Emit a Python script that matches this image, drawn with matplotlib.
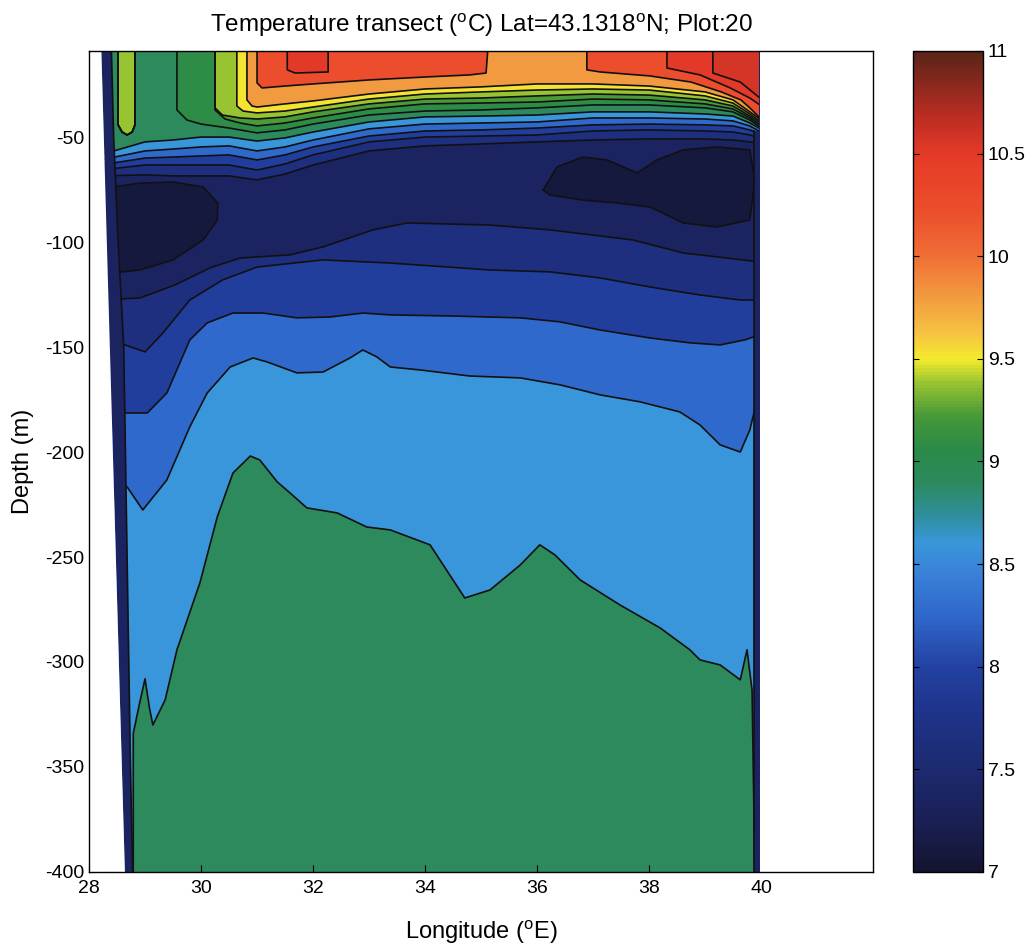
import numpy as np
import matplotlib
matplotlib.use("Agg")
import matplotlib.pyplot as plt
from matplotlib.colors import LinearSegmentedColormap, Normalize
from matplotlib.cm import ScalarMappable

plt.rcParams['font.family'] = ['Liberation Sans', 'DejaVu Sans']
plt.rcParams['mathtext.fontset'] = 'custom'
plt.rcParams['mathtext.rm'] = 'Liberation Sans'
plt.rcParams['axes.unicode_minus'] = False

# depth range of the section (m) and longitude range of the axes
TOP, BOT = -9, -400
LON_MIN, LON_MAX = 28, 42

# colour scale (7..11 degC)
cbar_vals = [7.0, 7.25, 7.5, 7.75, 8.0, 8.25, 8.45, 8.6, 8.75, 8.9, 9.05, 9.22, 9.38,
             9.5, 9.62, 9.8, 10.0, 10.22, 10.5, 10.7, 11.0]
cbar_cols = ['#141430', '#1a2056', '#1c2a70', '#1e3288', '#2342a2', '#3068cc', '#3a80d8',
             '#3a96da', '#2e8e96', '#2c8a5c', '#2a8a48', '#469838', '#96c232', '#f4ec2c',
             '#f6c442', '#f29c40', '#f06e36', '#ec4e2c', '#e63a28', '#b82c22', '#5a2418']
cbar_ticks = [7, 7.5, 8, 8.5, 9, 9.5, 10, 10.5, 11]
cbar_ticklabels = ['7', '7.5', '8', '8.5', '9', '9.5', '10', '10.5', '11']

# contour levels (degC)
levels = [7.2, 7.5, 7.8, 8.1, 8.4, 8.8, 9.0, 9.15, 9.3, 9.45, 9.6, 10.0, 10.45, 10.55]

# isotherms in the upper layer (warmer water above the line)
up_lon = [28.2, 29.0, 29.5, 30.0, 30.5, 31.0, 31.5, 32.0, 33.0, 34.0, 35.0, 36.0, 37.0,
          38.0, 39.0, 39.5, 39.8, 39.93, 39.98]
t75_up = [-68.5, -68.0, -68.5, -68.5, -68.5, -70.4, -67.6, -63.3, -56.6, -54.2, -53.3, -52.3,
          -51.4, -50.9, -50.9, -51.4, -52.3, -52.8, -53.3]
t78_up = [-65.7, -63.3, -63.3, -63.3, -63.3, -65.7, -62.8, -58.5, -52.3, -50.0, -49.5, -49.0,
          -47.1, -46.6, -47.1, -47.6, -49.0, -50.0, -50.9]
t81_up = [-63.3, -60.0, -59.5, -59.0, -58.5, -60.9, -58.5, -54.7, -49.5, -47.1, -46.6, -45.7,
          -44.2, -43.8, -44.2, -44.7, -46.6, -48.0, -49.0]
t84_up = [-60.9, -56.6, -55.7, -54.7, -54.2, -56.6, -54.7, -51.4, -46.1, -43.8, -43.3, -42.8,
          -40.9, -40.9, -41.4, -42.3, -44.7, -46.6, -47.6]
t88_up = [-58.5, -52.3, -51.4, -50.0, -50.0, -51.9, -50.4, -47.6, -42.8, -40.4, -40.0, -39.5,
          -38.0, -38.0, -39.0, -40.0, -43.3, -45.2, -46.1]

t90_lon = [29.57, 29.57, 29.75, 30.0, 30.5, 31.0, 31.5, 32.0, 33.0, 34.0, 35.0, 36.0, 37.0,
           38.0, 39.0, 39.5, 39.8, 39.93, 39.98]
t90_up = [-9, -37.1, -41.9, -43.8, -45.7, -48.0, -46.6, -43.8, -39.5, -37.6, -37.1, -36.1,
          -34.7, -34.7, -36.1, -38.0, -41.9, -44.2, -45.2]
t915_lon = [30.25, 30.25, 30.43, 30.7, 31.0, 31.5, 32.0, 33.0, 34.0, 35.0, 36.0, 37.0, 38.0,
            39.0, 39.5, 39.8, 39.93, 39.98]
t915_up = [-9, -37.1, -41.4, -43.3, -44.7, -43.3, -40.9, -36.6, -34.2, -33.8, -33.3, -31.9,
           -32.3, -34.2, -36.6, -40.9, -43.3, -44.2]
t93_lon = [30.25, 30.25, 30.38, 30.7, 31.0, 31.5, 32.0, 33.0, 34.0, 35.0, 36.0, 37.0, 38.0,
           39.0, 39.5, 39.8, 39.93, 39.98]
t93_up = [-9, -36.1, -39.5, -40.9, -41.4, -40.4, -38.0, -34.2, -31.9, -31.4, -30.4, -29.5,
          -30.0, -32.3, -35.2, -40.0, -42.3, -43.3]
t945_lon = [30.64, 30.64, 30.75, 31.0, 31.5, 32.0, 33.0, 34.0, 35.0, 36.0, 37.0, 38.0, 39.0,
            39.5, 39.8, 39.93, 39.98]
t945_up = [-9, -35.2, -37.6, -38.5, -37.6, -35.7, -31.9, -29.5, -28.5, -27.6, -27.1, -27.6,
           -30.4, -33.8, -39.0, -41.4, -42.3]
t96_lon = [30.82, 30.82, 30.91, 31.0, 31.5, 32.0, 33.0, 34.0, 35.0, 36.0, 37.0, 38.0, 39.0,
           39.5, 39.8, 39.93, 39.98]
t96_up = [-9, -32.3, -35.2, -35.7, -34.2, -32.8, -29.5, -27.1, -26.1, -24.7, -24.7, -25.7,
          -28.5, -32.3, -38.0, -40.4, -41.4]
t100w_lon = [31.0, 31.0, 31.09, 31.5, 32.0, 33.0, 34.0, 34.8, 35.09, 35.12]
t100w_up = [-9, -24.2, -26.6, -25.7, -24.7, -22.8, -21.4, -20.4, -19.5, -9]
t100e_lon = [36.89, 36.89, 37.13, 38.02, 38.75, 39.29, 39.64, 39.8, 39.93, 39.98]
t100e_up = [-9, -18.0, -19.0, -20.9, -23.8, -28.5, -32.3, -36.1, -39.5, -40.9]
t1045w_lon = [31.54, 31.54, 31.68, 32.27, 32.27]
t1045w_up = [-9, -18.0, -19.5, -19.0, -9]
t1045e_lon = [38.32, 38.32, 38.91, 39.45, 39.8, 39.98]
t1045e_up = [-9, -17.1, -20.4, -26.6, -31.4, -34.7]
t1055_lon = [39.14, 39.14, 39.63, 39.98]
t1055_up = [-9, -19.5, -23.8, -31.4]
# warm column near the western shelf
col_lon = [28.52, 28.52, 28.59, 28.68, 28.77, 28.82, 28.82]
col_up = [-9, -44.2, -47.6, -49.0, -47.6, -44.2, -9]

# cold intermediate layer cores (below 7.2 degC)
core_w_lon = [28.42, 28.91, 29.5, 30.04, 30.3, 30.29, 30.04, 29.5, 28.91, 28.42]
core_w_dep = [-73.8, -71.9, -71.4, -73.8, -81.4, -89.5, -99.0, -108.5, -113.3, -114.7]
core_e_lon = [36.11, 36.36, 36.82, 37.25, 37.79, 38.14, 38.61, 39.21, 39.8, 39.89, 39.8,
              39.21, 38.61, 38.02, 37.43, 36.82, 36.23]
core_e_dep = [-75.2, -64.2, -59.5, -60.9, -67.1, -60.9, -56.1, -54.7, -56.1, -70.4, -89.5,
              -92.8, -90.9, -83.3, -81.4, -80.0, -77.6]

# isotherms in the deep layer (warmer water below the line)
t75_dn_lon = [28.2, 28.91, 29.54, 30.16, 30.7, 31.59, 32.18, 33.07, 33.68, 35.16, 36.23,
              37.71, 38.61, 39.68, 39.98]
t75_dn = [-127.6, -126.6, -120.4, -112.3, -107.6, -106.1, -102.3, -94.2, -90.9, -91.9, -94.2,
          -99.0, -105.2, -108.5, -109.5]
t78_dn_lon = [28.2, 28.64, 29.0, 29.32, 29.8, 30.39, 31.0, 32.18, 33.38, 35.16, 36.23, 37.13,
              38.02, 38.91, 39.63, 39.98]
t78_dn = [-149.0, -149.0, -152.3, -143.3, -127.6, -118.0, -111.9, -108.5, -110.0, -113.3,
          -114.2, -117.1, -121.4, -125.2, -127.6, -127.6]
t81_dn_lon = [28.2, 28.68, 29.04, 29.39, 29.8, 30.11, 30.57, 31.11, 31.71, 32.3, 32.89, 33.38,
              34.45, 35.7, 36.41, 37.13, 38.02, 38.73, 39.27, 39.71, 39.98]
t81_dn = [-181.4, -181.4, -181.4, -171.9, -146.6, -138.5, -133.8, -133.8, -136.1, -135.7,
          -133.8, -134.7, -135.2, -136.1, -138.0, -141.9, -145.7, -148.0, -149.0, -146.6, -144.2]
t84_dn_lon = [28.2, 28.68, 28.96, 29.39, 29.8, 30.11, 30.52, 30.93, 31.18, 31.71, 32.18, 32.66,
              32.89, 33.14, 33.38, 33.91, 34.8, 35.7, 36.41, 37.13, 37.84, 38.55, 38.91, 39.27,
              39.63, 39.8, 39.93, 39.98]
t84_dn = [-216.6, -216.6, -227.6, -213.3, -188.0, -171.9, -159.5, -155.2, -157.1, -162.3,
          -161.9, -155.2, -151.4, -154.7, -159.5, -160.9, -163.8, -164.7, -168.0, -172.8,
          -176.1, -180.9, -187.1, -196.6, -200.0, -189.5, -175.2, -170.4]
t88_dn_lon = [28.79, 28.79, 28.9, 29.0, 29.08, 29.14, 29.36, 29.57, 29.98, 30.29, 30.57,
              30.88, 31.05, 31.36, 31.59, 31.89, 32.43, 32.96, 33.38, 34.09, 34.71, 35.16,
              35.7, 36.05, 36.32, 36.77, 37.48, 38.2, 38.73, 38.91, 39.27, 39.63, 39.75,
              39.84, 39.89]
t88_dn = [-400, -334, -320, -308, -322, -330, -318, -294.2, -262.3, -230.9, -210.0, -201.9,
          -203.8, -214.2, -219.5, -226.6, -229.0, -235.7, -237.1, -244.2, -269.5, -265.7,
          -253.8, -244.2, -249.0, -260.9, -272.8, -283.8, -294.2, -299.0, -301.4, -308.5,
          -294.2, -313.3, -400]

# coastline / slope of the section
shore_w_lon = [28.22, 28.64]
shore_w_dep = [-9, -400]
shore_e_lon = 39.98
edge_w_lon = [28.4, 28.44, 28.52, 28.62, 28.68, 28.74, 28.78]
edge_w_dep = [-9, -50, -100, -150, -250, -350, -400]
edge_e_lon = 39.87
edge_e_top = -47

cmap = LinearSegmentedColormap.from_list(
    'ttr', list(zip((np.array(cbar_vals) - 7) / 4, cbar_cols)))
norm = Normalize(7, 11)
bounds = np.array([7.0] + levels + [levels[-1] + 0.05])
band = [cmap(norm(v)) for v in (bounds[:-1] + bounds[1:]) / 2]

fig = plt.figure(figsize=(10.34, 9.51), dpi=100)
ax = fig.add_axes([0.0861, 0.0831, 0.7582, 0.8633])
cax = fig.add_axes([0.883, 0.0831, 0.0677, 0.8633])

LW = 1.2
LC = '#111111'


def fill_above(lon, dep, c):
    ax.fill(list(lon) + [lon[-1], lon[0]], list(dep) + [TOP, TOP], color=c, lw=0, zorder=1)
    ax.plot(lon, dep, color=LC, lw=LW, zorder=2)


def fill_below(lon, dep, c):
    ax.fill(list(lon) + [lon[-1], lon[0]], list(dep) + [BOT, BOT], color=c, lw=0, zorder=1)
    ax.plot(lon, dep, color=LC, lw=LW, zorder=2)


# water, then the cold cores
ax.fill([shore_w_lon[0], shore_e_lon, shore_e_lon, shore_w_lon[0]], [TOP, TOP, BOT, BOT],
        color=band[1], lw=0, zorder=1)
for lo, de in [(core_w_lon, core_w_dep), (core_e_lon, core_e_dep)]:
    ax.fill(lo, de, color=band[0], lw=0, zorder=1)
    ax.plot(lo + lo[:1], de + de[:1], color=LC, lw=LW, zorder=2)

# warmer layers, coldest first
fill_above(up_lon, t75_up, band[2]); fill_below(t75_dn_lon, t75_dn, band[2])
fill_above(up_lon, t78_up, band[3]); fill_below(t78_dn_lon, t78_dn, band[3])
fill_above(up_lon, t81_up, band[4]); fill_below(t81_dn_lon, t81_dn, band[4])
fill_above(up_lon, t84_up, band[5]); fill_below(t84_dn_lon, t84_dn, band[5])
fill_above(up_lon, t88_up, band[6]); fill_below(t88_dn_lon, t88_dn, band[6])
fill_above(t90_lon, t90_up, band[7]); fill_above(col_lon, col_up, band[7])
fill_above(t915_lon, t915_up, band[8]); fill_above(col_lon, col_up, band[8])
fill_above(t93_lon, t93_up, band[9]); fill_above(col_lon, col_up, band[9])
fill_above(t945_lon, t945_up, band[10])
fill_above(t96_lon, t96_up, band[11])
fill_above(t100w_lon, t100w_up, band[12]); fill_above(t100e_lon, t100e_up, band[12])
fill_above(t1045w_lon, t1045w_up, band[13]); fill_above(t1045e_lon, t1045e_up, band[13])
fill_above(t1055_lon, t1055_up, band[14])

# cold rim along the coasts
ax.fill(shore_w_lon[::-1] + edge_w_lon, shore_w_dep[::-1] + edge_w_dep,
        color=band[1], lw=0, zorder=3)
ax.plot(edge_w_lon, edge_w_dep, color=LC, lw=LW, zorder=3)
ax.fill([edge_e_lon, shore_e_lon, shore_e_lon, edge_e_lon], [edge_e_top, edge_e_top, BOT, BOT],
        color=band[1], lw=0, zorder=3)
ax.plot([edge_e_lon, edge_e_lon], [edge_e_top, BOT], color=LC, lw=LW, zorder=3)
ax.plot([shore_e_lon, shore_e_lon], [TOP, BOT], color='#1b2668', lw=1.5, zorder=3)

# land
ax.fill([LON_MIN] + shore_w_lon + [LON_MIN], [TOP] + shore_w_dep + [BOT],
        color='white', lw=0, zorder=4)
ax.fill([shore_e_lon + 0.01, LON_MAX, LON_MAX, shore_e_lon + 0.01], [TOP, TOP, BOT, BOT],
        color='white', lw=0, zorder=4)

ax.set_xlim(LON_MIN, LON_MAX)
ax.set_ylim(BOT, TOP)
ax.set_xticks(range(28, 41, 2))
ax.set_yticks(range(-400, -49, 50))
ax.tick_params(direction='in', length=5, labelsize=14, top=False, right=False)
ax.tick_params(axis='x', pad=6)
for sp in ax.spines.values():
    sp.set_zorder(10)
    sp.set_linewidth(1.0)
ax.set_xlabel(r'Longitude ($^{\rm o}$E)', fontsize=17, labelpad=15)
ax.set_ylabel('Depth (m)', fontsize=17, labelpad=8)
ax.set_title(r'Temperature transect ($^{\rm o}$C) Lat=43.1318$^{\rm o}$N; Plot:20',
             fontsize=17.5, pad=14)

cb = fig.colorbar(ScalarMappable(norm=norm, cmap=cmap), cax=cax, ticks=cbar_ticks)
cb.ax.set_yticklabels(cbar_ticklabels)
cb.ax.tick_params(direction='in', length=4, labelsize=14, left=True, right=True)
cb.outline.set_linewidth(1.0)

fig.savefig('out.png', dpi=100)
